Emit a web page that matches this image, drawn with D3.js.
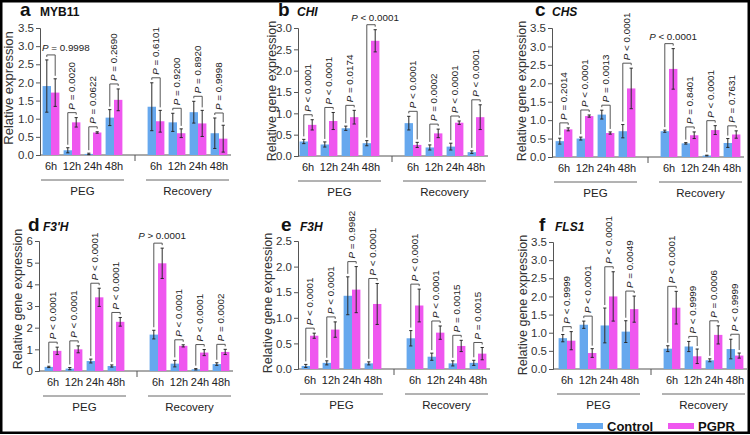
<!DOCTYPE html>
<html><head><meta charset="utf-8">
<script src="https://cdn.jsdelivr.net/npm/d3@7"></script>
<style>
body{margin:0;background:#fff}
svg{display:block}
text{font-family:"Liberation Sans",Arial,sans-serif}
</style>
</head><body>
<svg id="chart" width="750" height="435"></svg>
<script>
// ---------- DATA ----------
const categories = ["6h", "12h", "24h", "48h"];
const groups = ["PEG", "Recovery"];
const seriesNames = ["Control", "PGPR"];

// a  MYB11  (PEG 6h..48h, Recovery 6h..48h)
const mybControl    = [1.90, 0.13, 0.03, 1.03, 1.33, 0.90, 1.18, 0.60];
const mybControlErr = [0.72, 0.07, 0.02, 0.22, 0.66, 0.25, 0.30, 0.42];
const mybPGPR       = [1.72, 0.90, 0.62, 1.52, 0.93, 0.60, 0.87, 0.45];
const mybPGPRErr    = [0.38, 0.13, 0.02, 0.30, 0.30, 0.12, 0.36, 0.37];
const mybP = ["= 0.9998", "= 0.0020", "= 0.0622", "= 0.2690", "= 0.6101", "= 0.9200", "= 0.8920", "= 0.9998"];

// b  CHI
const chiControl    = [0.34, 0.27, 0.65, 0.30, 0.77, 0.20, 0.22, 0.09];
const chiControlErr = [0.05, 0.06, 0.05, 0.06, 0.16, 0.06, 0.08, 0.03];
const chiPGPR       = [0.73, 0.82, 0.91, 2.70, 0.26, 0.53, 0.78, 0.91];
const chiPGPRErr    = [0.12, 0.20, 0.16, 0.26, 0.06, 0.10, 0.04, 0.29];
const chiP = ["< 0.0001", "< 0.0001", "= 0.0174", "< 0.0001", "< 0.0001", "= 0.0002", "< 0.0001", "< 0.0001"];

// c  CHS
const chsControl    = [0.43, 0.50, 1.15, 0.70, 0.70, 0.37, 0.04, 0.38];
const chsControlErr = [0.08, 0.04, 0.12, 0.18, 0.03, 0.02, 0.01, 0.12];
const chsPGPR       = [0.75, 1.11, 0.65, 1.86, 2.39, 0.59, 0.73, 0.61];
const chsPGPRErr    = [0.04, 0.03, 0.03, 0.55, 0.55, 0.09, 0.12, 0.10];
const chsP = ["= 0.2014", "< 0.0001", "= 0.0013", "< 0.0001", "< 0.0001", "= 0.8401", "< 0.0001", "= 0.7631"];

// d  F3'H
const f3phControl    = [0.19, 0.11, 0.46, 0.23, 1.68, 0.34, 0.08, 0.32];
const f3phControlErr = [0.03, 0.05, 0.09, 0.05, 0.20, 0.15, 0.03, 0.06];
const f3phPGPR       = [0.93, 1.00, 3.40, 2.27, 4.97, 1.16, 0.85, 0.88];
const f3phPGPRErr    = [0.17, 0.16, 0.42, 0.20, 0.70, 0.05, 0.14, 0.12];
const f3phP = ["< 0.0001", "< 0.0001", "< 0.0001", "< 0.0001", "> 0.0001", "< 0.0001", "< 0.0001", "= 0.0002"];

// e  F3H
const f3hControl    = [0.06, 0.12, 1.43, 0.11, 0.60, 0.24, 0.11, 0.12];
const f3hControlErr = [0.03, 0.04, 0.37, 0.03, 0.15, 0.07, 0.05, 0.05];
const f3hPGPR       = [0.65, 0.77, 1.55, 1.27, 1.24, 0.71, 0.45, 0.30];
const f3hPGPRErr    = [0.05, 0.15, 0.45, 0.40, 0.32, 0.13, 0.11, 0.12];
const f3hP = ["< 0.0001", "< 0.0001", "= 0.9982", "< 0.0001", "< 0.0001", "< 0.0001", "= 0.0015", "= 0.0015"];

// f  FLS1
const flsControl    = [0.85, 1.22, 1.20, 1.03, 0.56, 0.62, 0.24, 0.55];
const flsControlErr = [0.10, 0.10, 0.48, 0.30, 0.08, 0.14, 0.04, 0.27];
const flsPGPR       = [0.78, 0.44, 2.00, 1.65, 1.69, 0.35, 0.94, 0.37];
const flsPGPRErr    = [0.25, 0.12, 0.68, 0.36, 0.45, 0.20, 0.25, 0.07];
const flsP = ["< 0.9999", "< 0.0001", "< 0.0001", "= 0.0049", "< 0.0001", "< 0.9999", "= 0.0006", "< 0.9999"];

// comparisons whose label is written horizontally (index into the 8 pairs)
const flatA = [0], flatB = [3], flatC = [4], flatD = [4], flatE = [], flatF = [];

// ---------- LAYOUT ----------
const COLORS = {Control: "#66a8ee", PGPR: "#ef57ef"};
const svg = d3.select("#chart");
svg.append("rect").attr("width", 750).attr("height", 435).attr("fill", "#fff");

const panels = [
  {letter: "a", gene: "MYB11", italic: false, ylab: "Relative expression", ctrl: mybControl, ctrlErr: mybControlErr, pgpr: mybPGPR, pgprErr: mybPGPRErr, p: mybP, flat: flatA,
   max: 3.5, step: 0.5, fmt: ".1f", ax: 40, off: 11, y0: 155, y1: 28, ylabX: 8, ylabY: 88, ylabSize: 13, titleY: 16, letterX: 20, geneX: 40},
  {letter: "b", gene: "CHI", italic: true, ylab: "Relative gene expression", ctrl: chiControl, ctrlErr: chiControlErr, pgpr: chiPGPR, pgprErr: chiPGPRErr, p: chiP, flat: flatB,
   max: 3.0, step: 0.5, fmt: ".1f", ax: 298, off: 10, y0: 156, y1: 28, ylabX: 272, ylabY: 91, ylabSize: 12.5, titleY: 16, letterX: 278, geneX: 297},
  {letter: "c", gene: "CHS", italic: true, ylab: "Relative gene expression", ctrl: chsControl, ctrlErr: chsControlErr, pgpr: chsPGPR, pgprErr: chsPGPRErr, p: chsP, flat: flatC,
   max: 3.5, step: 0.5, fmt: ".1f", ax: 552, off: 12, y0: 157, y1: 28, ylabX: 522, ylabY: 91, ylabSize: 12.5, titleY: 16, letterX: 535, geneX: 552},
  {letter: "d", gene: "F3'H", italic: true, ylab: "Relative gene expression", ctrl: f3phControl, ctrlErr: f3phControlErr, pgpr: f3phPGPR, pgprErr: f3phPGPRErr, p: f3phP, flat: flatD,
   max: 6, step: 1, fmt: "d", ax: 39, off: 14, y0: 371, y1: 241, ylabX: 18, ylabY: 299, ylabSize: 12.5, titleY: 231, letterX: 28, geneX: 43},
  {letter: "e", gene: "F3H", italic: true, ylab: "Relative gene expression", ctrl: f3hControl, ctrlErr: f3hControlErr, pgpr: f3hPGPR, pgprErr: f3hPGPRErr, p: f3hP, flat: flatE,
   max: 2.5, step: 0.5, fmt: ".1f", ax: 298, off: 12, y0: 369, y1: 241, ylabX: 268, ylabY: 303, ylabSize: 12.5, titleY: 231, letterX: 281, geneX: 300},
  {letter: "f", gene: "FLS1", italic: true, ylab: "Relative gene expression", ctrl: flsControl, ctrlErr: flsControlErr, pgpr: flsPGPR, pgprErr: flsPGPRErr, p: flsP, flat: flatF,
   max: 3.5, step: 0.5, fmt: ".1f", ax: 553, off: 14, y0: 369, y1: 242, ylabX: 523, ylabY: 305, ylabSize: 12.5, titleY: 231, letterX: 539, geneX: 555}
];

const SLOT = 21, BW = 8.4;
const slotIndex = [0, 1, 2, 3, 5, 6, 7, 8];

panels.forEach(P => {
  const g = svg.append("g");
  const y = d3.scaleLinear().domain([0, P.max]).range([P.y0, P.y1]);
  const x = d3.scaleLinear().domain([0, 8]).range([P.ax + P.off, P.ax + P.off + 8 * SLOT]);

  // title
  g.append("text").attr("x", P.letterX).attr("y", P.titleY).attr("font-size", 19).attr("font-weight", "bold").attr("fill", "#111").text(P.letter);
  g.append("text").attr("x", P.geneX).attr("y", P.titleY).attr("font-size", 12).attr("font-weight", "bold")
    .attr("font-style", P.italic ? "italic" : "normal").attr("fill", "#111").text(P.gene);

  // y axis
  const ticks = d3.range(0, P.max + 1e-9, P.step);
  const yAxis = d3.axisLeft(y).tickValues(ticks).tickFormat(d3.format(P.fmt)).tickSize(4).tickPadding(2);
  const ya = g.append("g").attr("transform", `translate(${P.ax},0)`).call(yAxis);
  ya.select(".domain").attr("stroke", "#555");
  ya.selectAll(".tick line").attr("stroke", "#555");
  ya.selectAll(".tick text").attr("font-size", 11.5).attr("fill", "#333").attr("font-family", '"Liberation Sans",Arial,sans-serif');

  g.append("text").attr("transform", `translate(${P.ylabX},${P.ylabY}) rotate(-90)`).attr("text-anchor", "middle").attr("dy", "0.35em")
    .attr("font-size", P.ylabSize).attr("fill", "#333").text(P.ylab);

  // x axis line
  const xEnd = x(8) + 12;
  g.append("line").attr("x1", P.ax).attr("x2", xEnd).attr("y1", P.y0).attr("y2", P.y0).attr("stroke", "#555");
  g.append("line").attr("x1", x(4)).attr("x2", x(4)).attr("y1", P.y0).attr("y2", P.y0 + 6).attr("stroke", "#555");

  // bars
  const rows = slotIndex.map((s, i) => ({
    cx: x(s), cat: categories[i % 4],
    c: P.ctrl[i], ce: P.ctrlErr[i], p: P.pgpr[i], pe: P.pgprErr[i], label: P.p[i], flat: P.flat.includes(i)
  }));

  rows.forEach(r => {
    [["Control", r.c, r.ce, r.cx - BW], ["PGPR", r.p, r.pe, r.cx]].forEach(([name, v, e, bx]) => {
      g.append("rect").attr("x", bx).attr("y", y(v)).attr("width", BW).attr("height", y(0) - y(v)).attr("fill", COLORS[name]);
      const mx = bx + BW / 2;
      const lo = Math.max(0, v - e), hi = v + e;
      g.append("line").attr("x1", mx).attr("x2", mx).attr("y1", y(lo)).attr("y2", y(hi)).attr("stroke", "#2a2a2a").attr("stroke-width", 1);
      [lo, hi].forEach(t => g.append("line").attr("x1", mx - 1.6).attr("x2", mx + 1.6).attr("y1", y(t)).attr("y2", y(t)).attr("stroke", "#2a2a2a").attr("stroke-width", 1));
    });

    // category label
    g.append("text").attr("x", r.cx).attr("y", P.y0 + 15).attr("text-anchor", "middle").attr("font-size", 11).attr("fill", "#222").text(r.cat);

    // bracket
    const xc = r.cx - BW / 2, xp = r.cx + BW / 2;
    const tc = y(r.c + r.ce), tp = y(r.p + r.pe);
    const by = Math.min(tc, tp) - 5;
    g.append("path").attr("d", `M${xc},${tc - 3}V${by}H${xp}V${tp - 3}`).attr("fill", "none").attr("stroke", "#444").attr("stroke-width", 0.9);

    let t;
    if (r.flat) {
      t = g.append("text").attr("x", r.cx + 4).attr("y", by - 4).attr("text-anchor", "middle").attr("font-size", 9.8).attr("fill", "#222");
    } else {
      t = g.append("text").attr("transform", `translate(${r.cx},${by - 3}) rotate(-90)`).attr("dy", "0.35em").attr("font-size", 9.8).attr("fill", "#222");
    }
    t.append("tspan").attr("font-style", "italic").text("P");
    t.append("tspan").text(" " + r.label);
    if (r.flat) {
      const w = t.node().getComputedTextLength();
      const left = r.cx + 4 - w / 2;
      if (left < P.ax + 2) t.attr("x", P.ax + 2).attr("text-anchor", "start");
    }
  });

  // group lines and labels
  [[0, 3, groups[0]], [5, 8, groups[1]]].forEach(([a, b, name]) => {
    g.append("line").attr("x1", x(a) - 10).attr("x2", x(b) + 10).attr("y1", P.y0 + 25).attr("y2", P.y0 + 25).attr("stroke", "#666").attr("stroke-width", 1);
    g.append("text").attr("x", (x(a) + x(b)) / 2).attr("y", P.y0 + 40).attr("text-anchor", "middle").attr("font-size", 11.5).attr("fill", "#222").text(name);
  });
});

// legend
const legend = svg.append("g");
[[seriesNames[0], 577], [seriesNames[1], 668]].forEach(([name, lx]) => {
  legend.append("rect").attr("x", lx).attr("y", 423).attr("width", 26).attr("height", 6).attr("fill", COLORS[name]);
  legend.append("text").attr("x", lx + 30).attr("y", 431).attr("font-size", 13).attr("font-weight", "bold").attr("fill", "#111").text(name);
});

// outer frame
svg.append("rect").attr("x", 1.25).attr("y", 1.25).attr("width", 747.5).attr("height", 431.5)
  .attr("fill", "none").attr("stroke", "#000").attr("stroke-width", 2.5);
</script>
</body></html>
